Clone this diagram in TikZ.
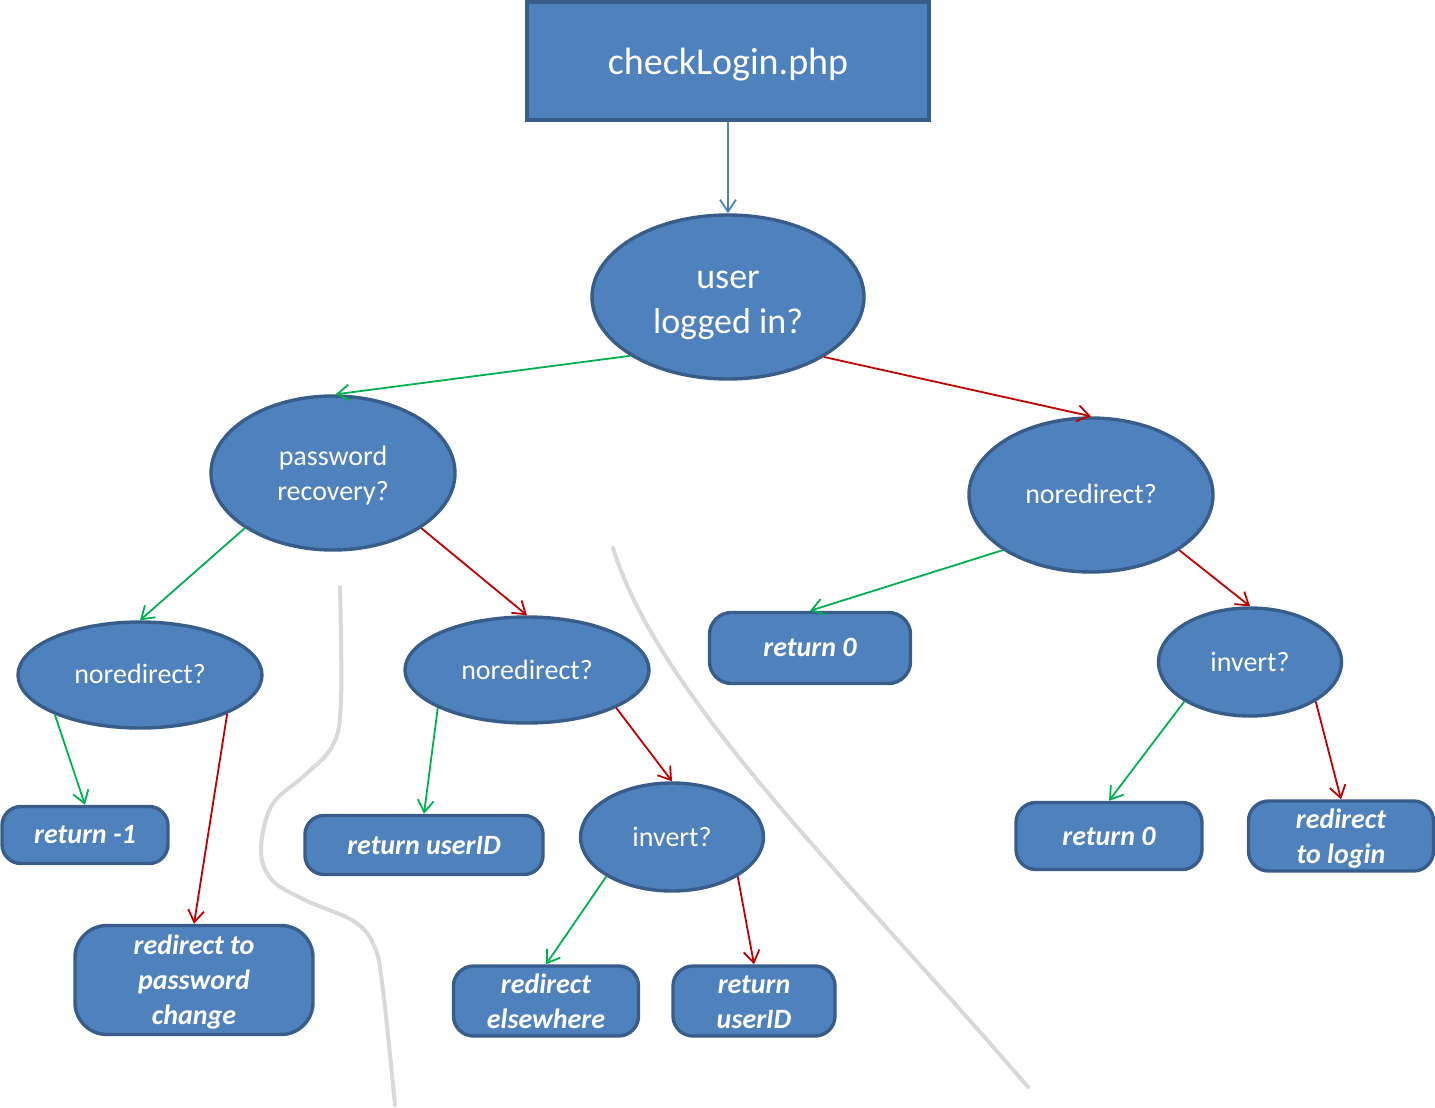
\documentclass[tikz,border=0pt]{standalone}
\usepackage{fontspec}
\setmainfont{Carlito}
\usetikzlibrary{shapes.geometric,arrows.meta}
\definecolor{boxfill}{HTML}{4F81BD}
\definecolor{boxline}{HTML}{385D8A}
\definecolor{ygreen}{HTML}{00B050}
\definecolor{nred}{HTML}{C00000}
\definecolor{sepgray}{HTML}{D9D9D9}
\newcommand{\lowtext}[2]{\raisebox{-#1}[\height][\depth]{\begin{tabular}{@{}c@{}}#2\end{tabular}}}
\tikzset{
  base/.style={fill=boxfill, draw=boxline, line width=1.7pt, text=white, inner sep=0pt, align=center},
  question/.style={base, ellipse, font=\fontsize{14}{17.5}\selectfont},
  result/.style={base, rectangle, font=\fontsize{14}{17.5}\selectfont\bfseries\itshape},
  conn/.style={line width=0.9pt, -{Straight Barb[length=6pt,width=8pt]}},
  yes/.style={conn, draw=ygreen},
  no/.style={conn, draw=nred},
  sep/.style={draw=sepgray, line width=2pt, line cap=round}
}
\begin{document}
\begin{tikzpicture}[x=0.5pt,y=-0.5pt]
\useasboundingbox (0,0) rectangle (1435,1108);

% separator curves
\draw[sep] plot[smooth, tension=0.6] coordinates {(340,587) (341,700) (333,745) (305,775) (272,805) (261,850) (272,880) (305,900) (355,922) (375,948) (383,990) (395,1105)};
\draw[sep] (613,548) .. controls (660,700) and (850,880) .. (1028,1087);

% nodes
\node[base, rectangle, minimum width=201pt, minimum height=59pt, font=\fontsize{19}{23}\selectfont] (top) at (728,61) {\lowtext{2pt}{checkLogin.php}};
\node[question, minimum width=136pt, minimum height=82pt, font=\fontsize{18}{22.5}\selectfont] (user) at (728,297) {\lowtext{2.25pt}{user\\logged in?}};
\node[question, minimum width=122pt, minimum height=77pt] (pw) at (333,473) {\lowtext{1.5pt}{password\\recovery?}};
\node[question, minimum width=122pt, minimum height=77pt] (nrR) at (1091,495) {\lowtext{0.5pt}{noredirect?}};
\node[question, minimum width=122pt, minimum height=53pt] (nrL) at (140,675) {\lowtext{0.5pt}{noredirect?}};
\node[question, minimum width=122pt, minimum height=53pt] (nrM) at (527,670) {noredirect?};
\node[question, minimum width=91.5pt, minimum height=54pt] (invR) at (1250,662) {invert?};
\node[question, minimum width=91.5pt, minimum height=54pt] (invM) at (672,837) {invert?};

\node[result, minimum width=100.5pt, minimum height=35.5pt, rounded corners=11pt] (ret0a) at (810,648) {\lowtext{0.5pt}{return 0}};
\node[result, minimum width=83pt, minimum height=28.5pt, rounded corners=9.5pt] (retm1) at (85,835) {\lowtext{0.5pt}{return -1}};
\node[result, minimum width=119pt, minimum height=54.5pt, rounded corners=16pt] (rpw) at (194,980) {\lowtext{1.25pt}{redirect to\\password\\change}};
\node[result, minimum width=119pt, minimum height=29.5pt, rounded corners=9.5pt] (ruid) at (424,845) {\lowtext{1pt}{return userID}};
\node[result, minimum width=92.5pt, minimum height=33.5pt, rounded corners=10pt] (relse) at (546,1001) {\lowtext{1.25pt}{redirect\\elsewhere}};
\node[result, minimum width=81pt, minimum height=33.5pt, rounded corners=10pt] (ruid2) at (754,1001) {\lowtext{1.25pt}{return\\userID}};
\node[result, minimum width=93pt, minimum height=33.5pt, rounded corners=10pt] (ret0b) at (1109,836) {return 0};
\node[result, minimum width=92.5pt, minimum height=33.5pt, rounded corners=10pt] (rlogin) at (1341,836) {\lowtext{1.5pt}{redirect\\to login}};

% connectors
\draw[conn, draw=boxfill] (top.south) -- (user.north);
\draw[yes] (user.211) -- (pw.88);
\draw[no] (user.328) -- (nrR.north);
\draw[yes] (pw.212) -- (nrL.north);
\draw[no] (pw.328) -- (nrM.north);
\draw[yes] (nrR.212) -- (ret0a.north);
\draw[no] (nrR.328) -- (invR.north);
\draw[yes] (nrL.205) -- (retm1.north);
\draw[no] (nrL.336) -- (rpw.north);
\draw[yes] (nrM.203) -- (ruid.north);
\draw[no] (nrM.337) -- (invM.north);
\draw[yes] (invM.211) -- (relse.north);
\draw[no] (invM.329) -- (ruid2.north);
\draw[yes] (invR.211) -- (ret0b.north);
\draw[no] (invR.329) -- (rlogin.north);
\end{tikzpicture}
\end{document}
